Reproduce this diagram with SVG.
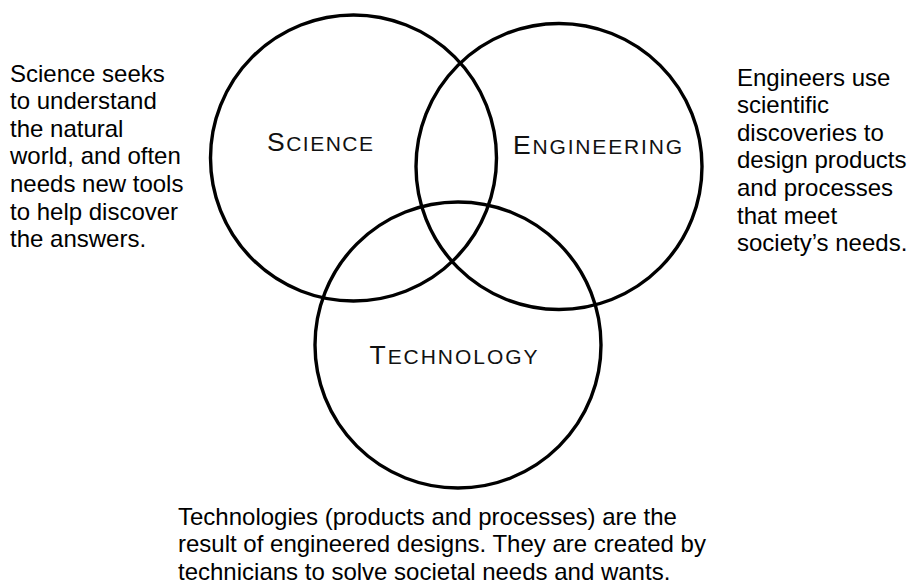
<svg xmlns="http://www.w3.org/2000/svg" width="908" height="583" viewBox="0 0 908 583">
<style>
.ring{fill:none;stroke:#000;stroke-width:3.4}
.para{font-family:"Liberation Sans",Arial,sans-serif;font-size:24px;fill:#000}
.lab{font-family:"Liberation Sans",Arial,sans-serif;fill:#111}
.big{font-size:26.5px}
.sm{font-size:21px}
</style>
<rect width="908" height="583" fill="#fff"/>
<g id="science">
<circle class="ring" cx="353.5" cy="158" r="143"/>
<text class="lab" x="267" y="151" textLength="106" lengthAdjust="spacing"><tspan class="big">S</tspan><tspan class="sm">CIENCE</tspan></text>
</g>
<g id="engineering">
<circle class="ring" cx="559" cy="166.5" r="143"/>
<text class="lab" x="513" y="154.3" textLength="169" lengthAdjust="spacing"><tspan class="big">E</tspan><tspan class="sm">NGINEERING</tspan></text>
</g>
<g id="technology">
<circle class="ring" cx="458" cy="345" r="143"/>
<text class="lab" x="369.5" y="364" textLength="168" lengthAdjust="spacing"><tspan class="big">T</tspan><tspan class="sm">ECHNOLOGY</tspan></text>
</g>
<g id="science-note">
<text class="para" x="10" y="81.5">
<tspan x="10" y="81.5">Science seeks</tspan>
<tspan x="10" y="109.1">to understand</tspan>
<tspan x="10" y="136.7">the natural</tspan>
<tspan x="10" y="164.3">world, and often</tspan>
<tspan x="10" y="191.9">needs new tools</tspan>
<tspan x="10" y="219.5">to help discover</tspan>
<tspan x="10" y="247.1">the answers.</tspan>
</text>
</g>
<g id="engineering-note">
<text class="para" x="737" y="85.5">
<tspan x="737" y="85.5">Engineers use</tspan>
<tspan x="737" y="113.1">scientific</tspan>
<tspan x="737" y="140.7">discoveries to</tspan>
<tspan x="737" y="168.3">design products</tspan>
<tspan x="737" y="195.9">and processes</tspan>
<tspan x="737" y="223.5">that meet</tspan>
<tspan x="737" y="251.1">society’s needs.</tspan>
</text>
</g>
<g id="technology-note">
<text class="para" x="178" y="524.5">
<tspan x="178" y="524.5">Technologies (products and processes) are the</tspan>
<tspan x="178" y="552">result of engineered designs. They are created by</tspan>
<tspan x="178" y="579.5">technicians to solve societal needs and wants.</tspan>
</text>
</g>
<g id="connectors"/>
</svg>
